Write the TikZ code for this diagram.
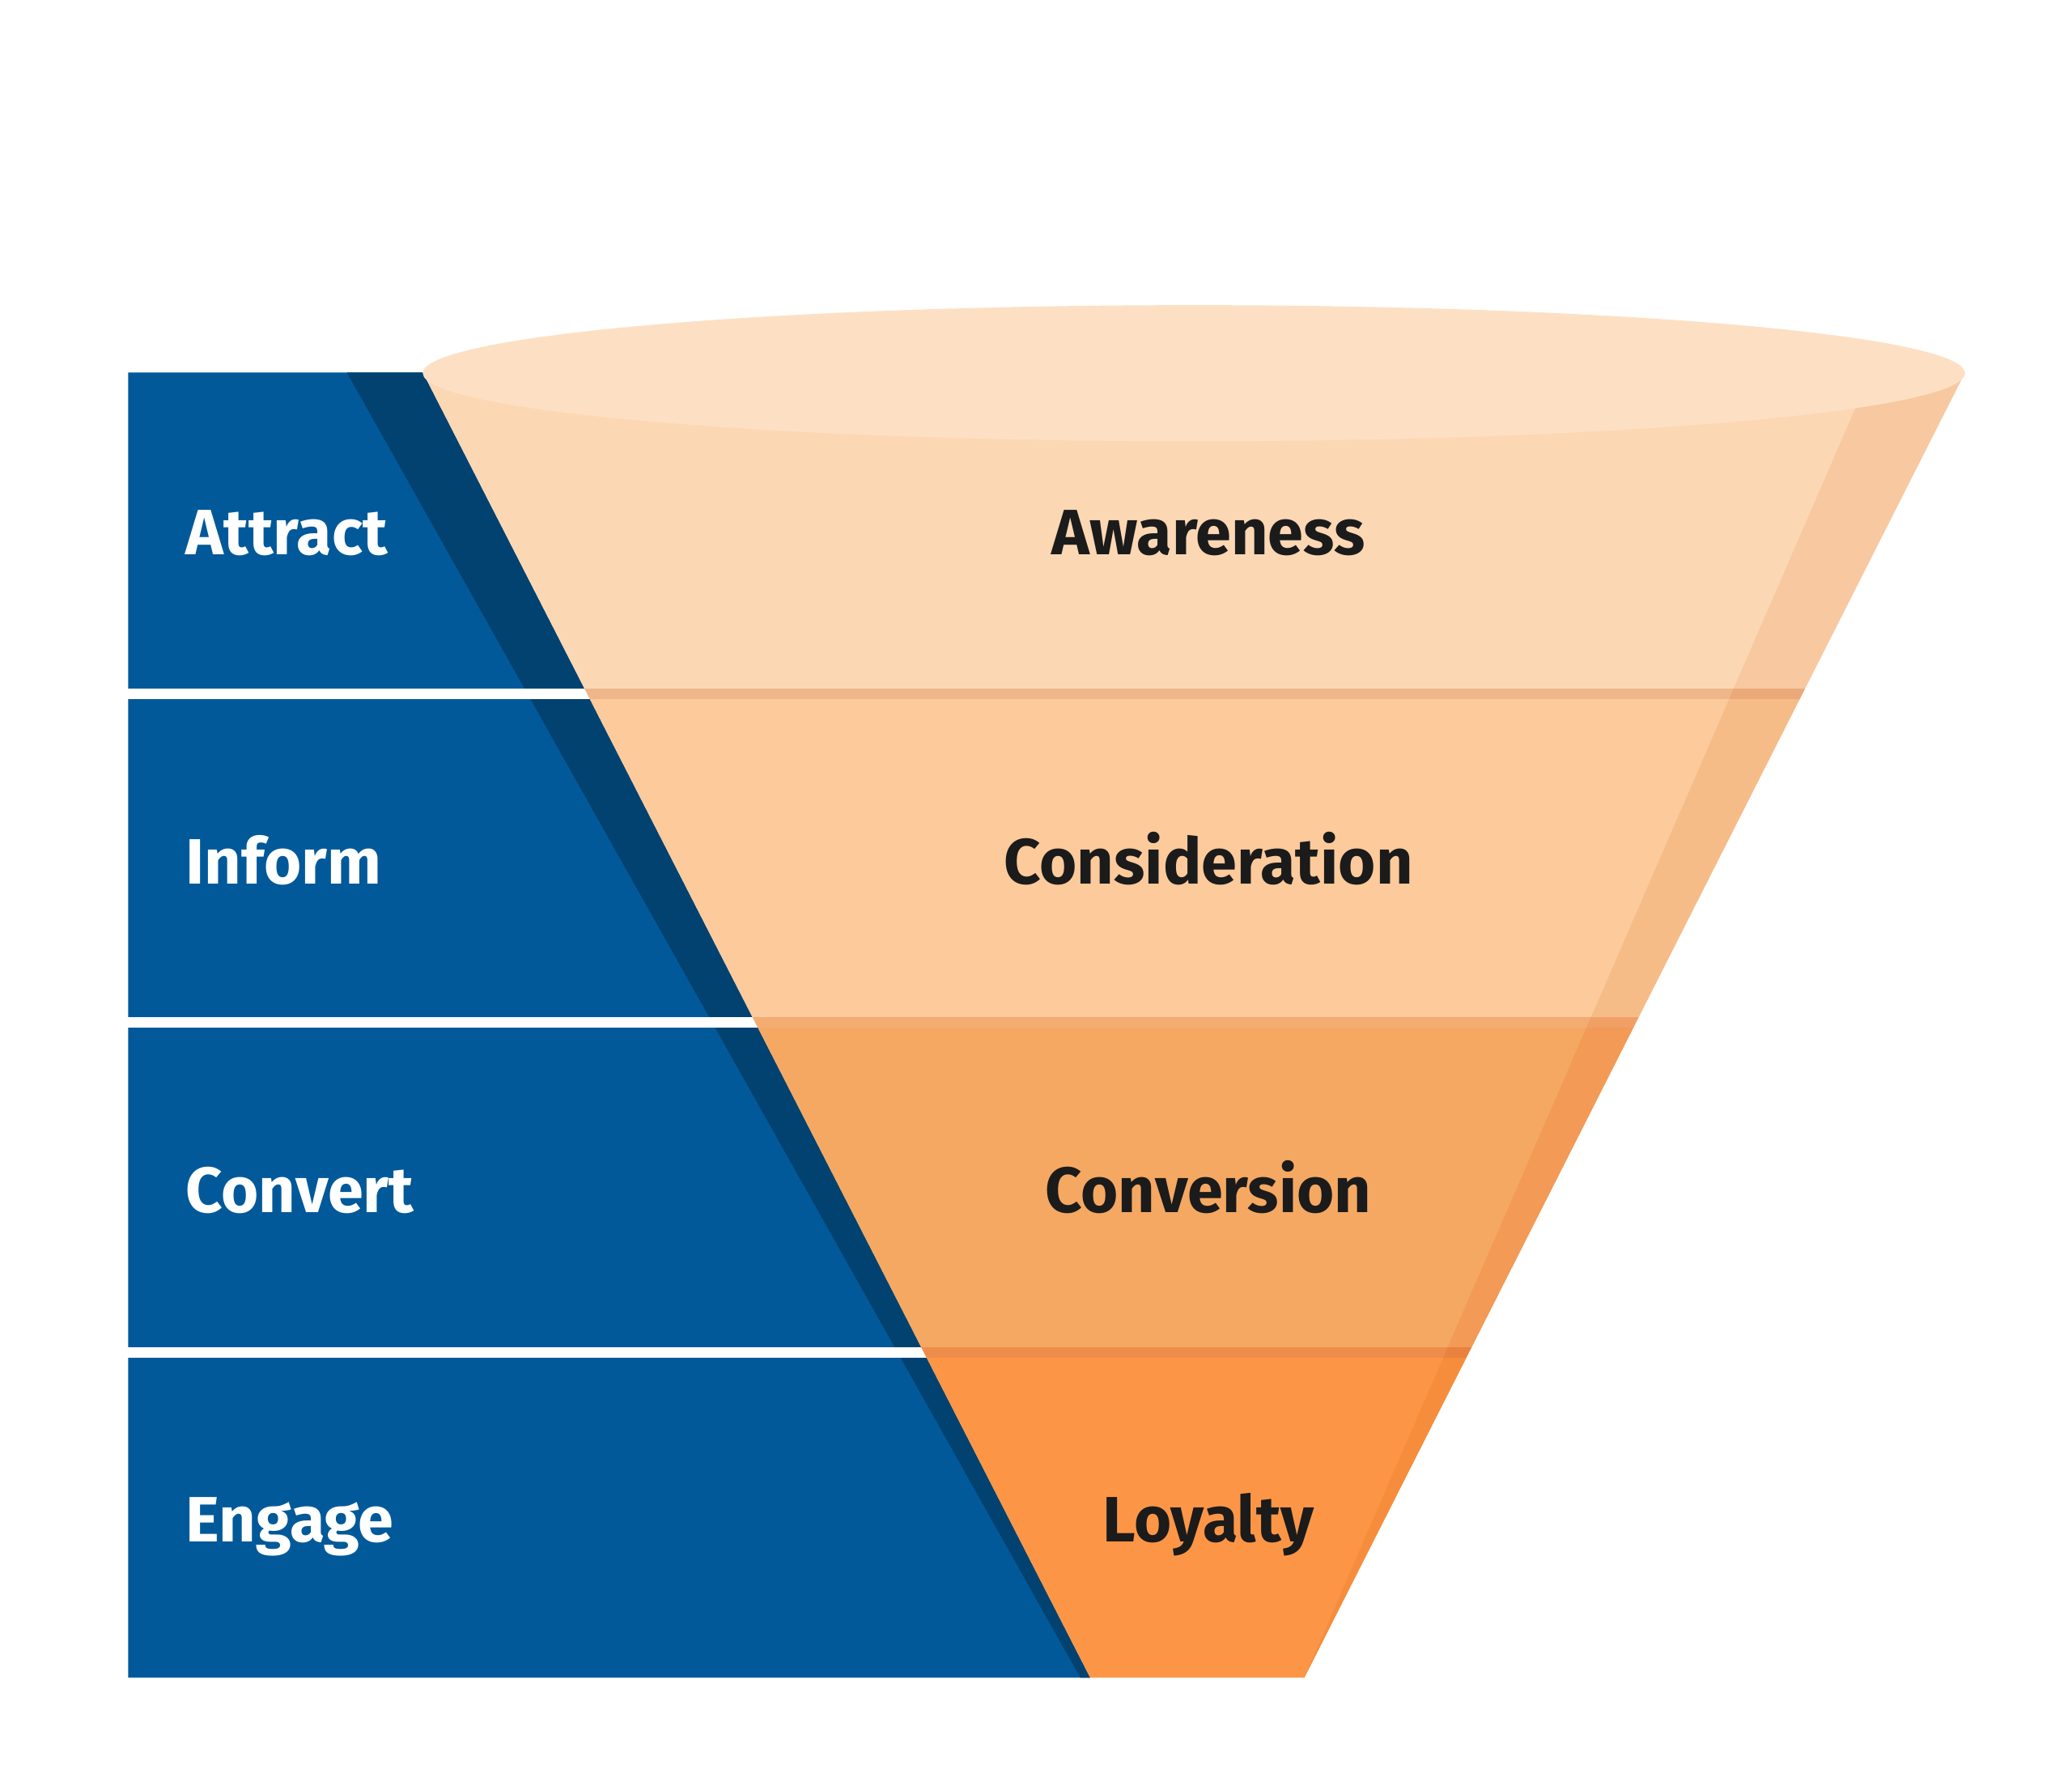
\documentclass[tikz,border=0pt]{standalone}
\usepackage{fontspec}
\setmainfont{Fira Sans}
\newcommand\funnelfont{\fontsize{13.8}{16}\selectfont\bfseries}
\definecolor{bandblue}{HTML}{02599A}
\definecolor{bandshadow}{HTML}{024270}
\definecolor{topcol}{HTML}{FDE0C3}
\definecolor{awcol}{HTML}{FCD7B4}
\definecolor{seamA}{HTML}{EFB68A}
\definecolor{cocol}{HTML}{FDCA9C}
\definecolor{seamB}{HTML}{F3AC72}
\definecolor{cvcol}{HTML}{F5A862}
\definecolor{seamC}{HTML}{EE8D4B}
\definecolor{locol}{HTML}{FC9646}
\definecolor{awS}{HTML}{F8C8A0}
\definecolor{seamAS}{HTML}{EBA97A}
\definecolor{coS}{HTML}{F6BC88}
\definecolor{seamBS}{HTML}{F0A065}
\definecolor{cvS}{HTML}{F29A56}
\definecolor{seamCS}{HTML}{E9823E}
\definecolor{loS}{HTML}{F68D3C}
\definecolor{labeltext}{HTML}{1B1B1B}
\begin{document}
\begin{tikzpicture}[x=0.01cm,y=-0.01cm,
  leftlabel/.style={anchor=base west,inner sep=0pt,text=white,font=\funnelfont},
  stagelabel/.style={anchor=base,inner sep=0pt,text=labeltext,font=\funnelfont}]
\useasboundingbox (0,0) rectangle (1568,1351);
\fill[white] (0,0) rectangle (1568,1351);
% blue side panel
\fill[bandblue] (97,282) -- (320,282) -- (825,1270) -- (97,1270) -- cycle;
\fill[bandshadow] (262.5,282) -- (320,282) -- (825,1270) -- (817.6,1270) -- cycle;
% white separators
\foreach \ya/\yb in {521/529, 770/778, 1020/1028}
  \fill[white] (97,\ya) rectangle (900,\yb);
% funnel body
\begin{scope}
  \clip (320,282) -- (825,1270) -- (987,1270) -- (1487,282) -- cycle;
  \fill[awcol] (0,250) rectangle (1568,521);
  \fill[seamA] (0,521) rectangle (1568,529);
  \fill[cocol] (0,529) rectangle (1568,770);
  \fill[seamB] (0,770) rectangle (1568,778);
  \fill[cvcol] (0,778) rectangle (1568,1020);
  \fill[seamC] (0,1020) rectangle (1568,1028);
  \fill[locol] (0,1028) rectangle (1568,1300);
  % right shaded side
  \clip (1415.8,282) -- (987,1270) -- (1487,282) -- cycle;
  \fill[awS] (0,250) rectangle (1568,521);
  \fill[seamAS] (0,521) rectangle (1568,529);
  \fill[coS] (0,529) rectangle (1568,770);
  \fill[seamBS] (0,770) rectangle (1568,778);
  \fill[cvS] (0,778) rectangle (1568,1020);
  \fill[seamCS] (0,1020) rectangle (1568,1028);
  \fill[loS] (0,1028) rectangle (1568,1300);
\end{scope}
% funnel opening
\fill[topcol] (903.5,282.5) ellipse [x radius=583.5, y radius=51.5];
% labels
\node[leftlabel] (attract) at (140,420) {Attract};
\node[leftlabel] (inform) at (140,669) {Inform};
\node[leftlabel] (convert) at (140,918) {Convert};
\node[leftlabel] (engage) at (140,1167) {Engage};
\node[stagelabel] (awareness) at (914.5,420) {Awareness};
\node[stagelabel] (consideration) at (914.5,669) {Consideration};
\node[stagelabel] (conversion) at (914.5,918) {Conversion};
\node[stagelabel] (loyalty) at (914.5,1167) {Loyalty};
\end{tikzpicture}
\end{document}
